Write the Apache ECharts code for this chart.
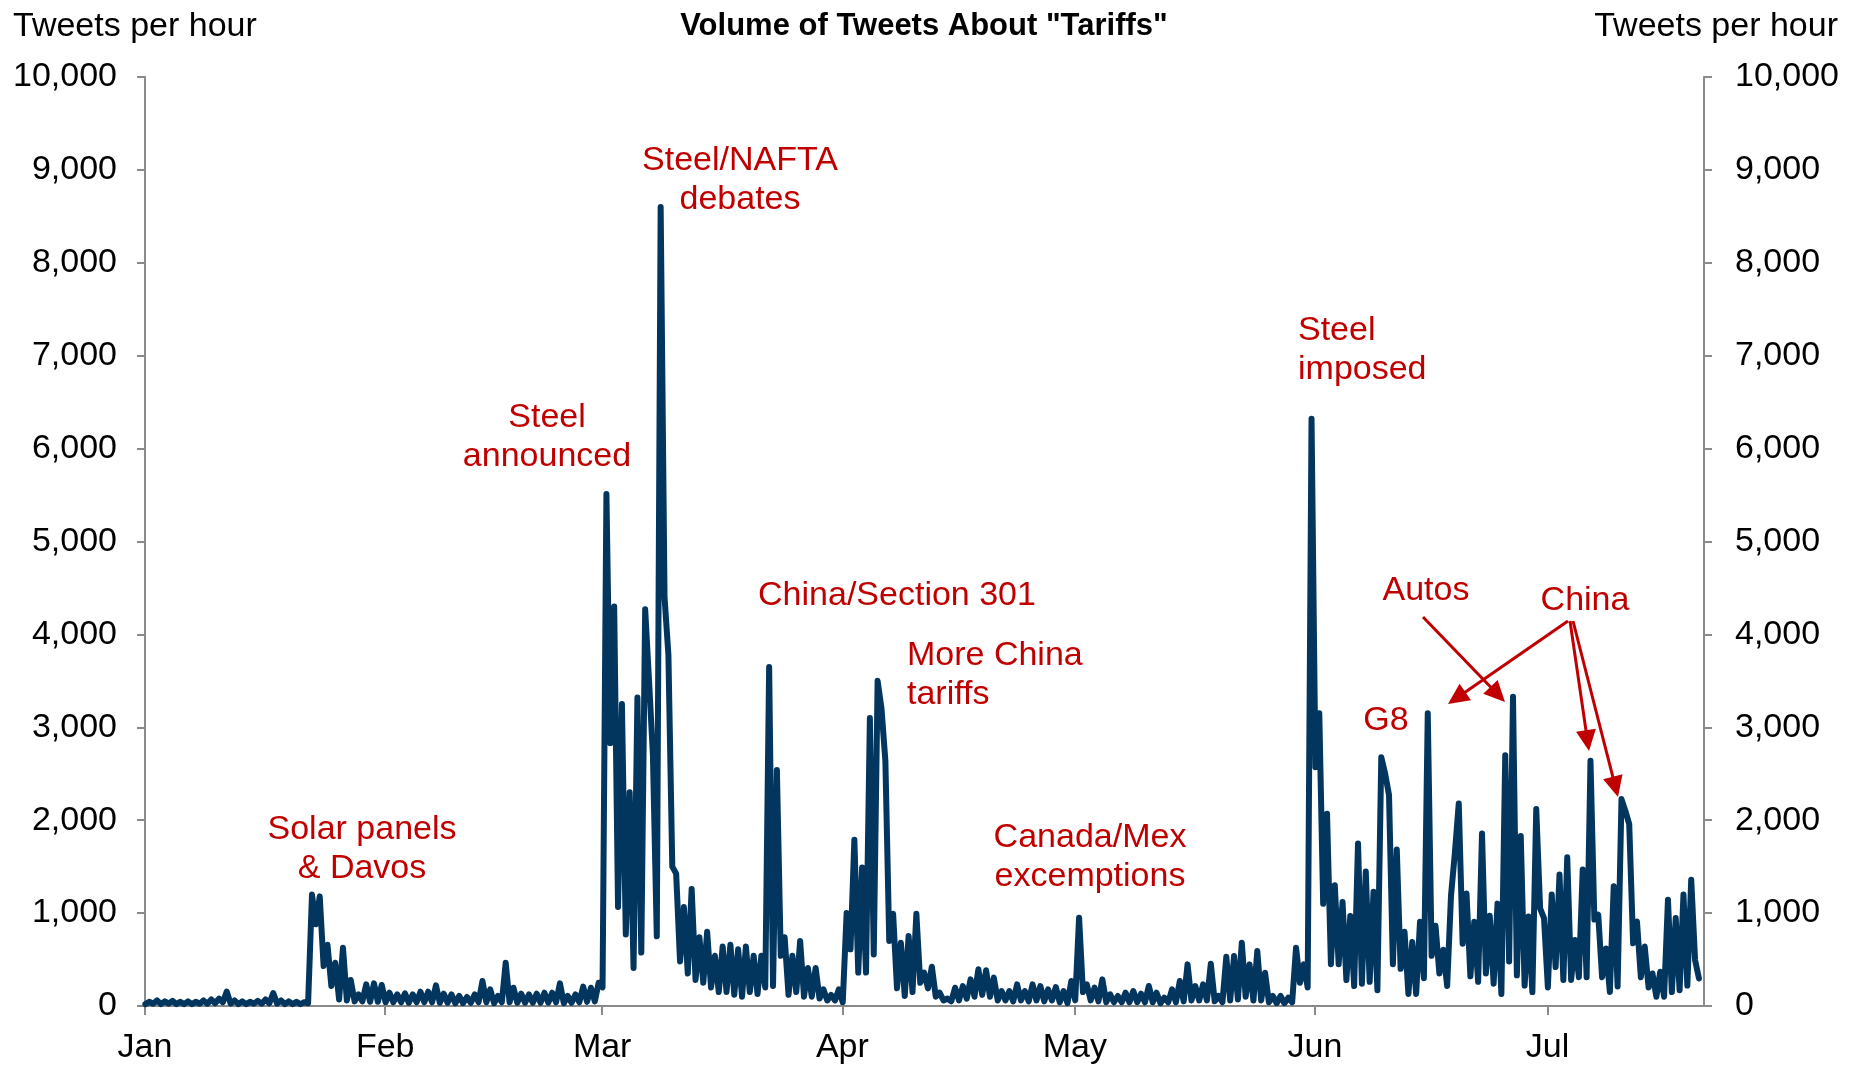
<!DOCTYPE html>
<html>
<head>
<meta charset="utf-8">
<title>Volume of Tweets About "Tariffs"</title>
<script src="https://cdn.jsdelivr.net/npm/echarts@6/dist/echarts.min.js"></script>
<style>
  html, body { margin: 0; padding: 0; background: #ffffff; }
  #chart { width: 1862px; height: 1065px; }
</style>
</head>
<body>
<div id="chart"></div>
<script>
// Tweets per hour about "tariffs", 2018. Each month lists, day by day,
// the overnight low followed by the daytime high.
const jan = [
  20,45, 25,60, 20,50, 25,55, 20,45, 20,50, 20,45, 25,60, 25,70, 30,80,
  40,155, 25,60, 20,50, 20,45, 25,55, 25,70, 30,140, 25,60, 20,50, 20,45,
  20,40, 30,1200, 880,1180, 430,660, 215,466, 70,627, 60,280, 50,125, 50,233, 45,244,
  45,226
];
const feb = [
  40,143, 40,125, 40,136, 35,125, 40,154, 40,154, 40,222, 35,133, 35,125, 30,108,
  30,97, 35,125, 40,269, 40,179, 30,108, 40,466, 40,197, 35,133, 35,125, 35,133,
  35,143, 35,143, 40,244, 30,108, 35,125, 40,208, 45,197, 50,251
];
const mar = [
  200,5510, 2830,4300, 1065,3250, 770,2300, 410,3320, 575,4270, 3500,2700, 750,8600, 4400,3780, 1500,1425,
  480,1065, 350,1260, 280,740, 250,800, 200,540, 150,640, 150,660, 120,610, 100,640, 150,540,
  130,540, 200,3650, 215,2540, 540,740, 120,540, 150,700, 100,410, 100,410, 80,180, 60,120,
  60,180
];
const apr = [
  40,1000, 610,1790, 360,1490, 360,3100, 555,3500, 3200,2640, 700,994, 190,682, 107,753, 150,994,
  250,359, 190,423, 100,143, 60,80, 50,197, 60,215, 80,287, 100,395, 120,384, 100,305,
  60,161, 60,161, 50,233, 60,161, 50,233, 60,215, 50,179, 60,204, 40,161, 30,269
];
const may = [
  60,950, 150,233, 60,197, 50,287, 40,126, 40,108, 40,143, 40,161, 40,133, 40,215,
  40,143, 30,90, 40,179, 40,269, 50,448, 60,215, 60,233, 60,455, 50,108, 40,531,
  60,538, 70,682, 100,448, 60,592, 60,358, 40,108, 30,108, 30,90, 40,628, 250,448,
  200,6320
];
const jun = [
  2570,3150, 1100,2070, 450,1300, 450,1120, 280,970, 215,1750, 240,1447, 260,1231, 170,2678, 2500,2270,
  450,1685, 400,800, 130,690, 130,907, 300,3150, 540,864, 350,605, 215,1188, 1650,2181, 670,1210,
  320,907, 260,1857, 350,972, 240,1102, 130,2700, 480,3330, 330,1830, 220,964, 150,2120, 1050,946
];
const jul = [
  200,1200, 420,1415, 280,1600, 280,711, 310,1470, 310,2640, 930,982, 310,620, 150,1290, 210,2227,
  2100,1957, 675,910, 310,640, 200,350, 100,368, 100,1144, 150,946, 170,1200, 220,1360, 495,296
];

const monthLabels = ['Jan', 'Feb', 'Mar', 'Apr', 'May', 'Jun', 'Jul'];
const monthStartDays = [0, 31, 59, 90, 120, 151, 181];   // days since 1 Jan
const axisEndDay = 201.2;
const yMax = 10000;
const yStep = 1000;

const annotations = [
  { text: 'Solar panels\n& Davos', x: 362, y: 849, align: 'center' },
  { text: 'Steel\nannounced', x: 547, y: 437, align: 'center' },
  { text: 'Steel/NAFTA\ndebates', x: 740, y: 180, align: 'center' },
  { text: 'China/Section 301', x: 897, y: 596, align: 'center' },
  { text: 'More China\ntariffs', x: 907, y: 675, align: 'left' },
  { text: 'Canada/Mex\nexcemptions', x: 1090, y: 857, align: 'center' },
  { text: 'Steel\nimposed', x: 1298, y: 350, align: 'left' },
  { text: 'Autos', x: 1426, y: 591, align: 'center' },
  { text: 'G8', x: 1386, y: 721, align: 'center' },
  { text: 'China', x: 1585, y: 601, align: 'center' }
];
// arrows: [fromX, fromY, tipX, tipY]
const arrows = [
  [1423, 617, 1505, 702],
  [1568, 621, 1448, 704],
  [1570, 621, 1589, 751],
  [1573, 621, 1618, 797]
];

const RED = '#C00000';
const NAVY = '#03365f';
const AXIS_GREY = '#8a8a8a';
const FONT = '"Liberation Sans", Arial, Helvetica, sans-serif';

// One point for the overnight low and one for the daytime high of every day.
const months = [jan, feb, mar, apr, may, jun, jul];
const points = [];
months.forEach((vals, m) => {
  for (let i = 0; i < vals.length; i += 2) {
    const day = monthStartDays[m] + i / 2;
    points.push([day + 0.05, vals[i]]);
    points.push([day + 0.55, vals[i + 1]]);
  }
});

function textEl(t) {
  return {
    type: 'text',
    z: 100,
    style: {
      text: t.text, x: t.x, y: t.y,
      fill: RED,
      font: '34px ' + FONT,
      lineHeight: 39,
      align: t.align, textAlign: t.align,
      verticalAlign: 'middle', textVerticalAlign: 'middle'
    }
  };
}

function arrowEls(a) {
  const [x1, y1, x2, y2] = a;
  const len = 21, half = 10;
  const dx = x2 - x1, dy = y2 - y1, d = Math.hypot(dx, dy);
  const ux = dx / d, uy = dy / d;
  const bx = x2 - ux * len, by = y2 - uy * len;
  return [
    { type: 'line', z: 100, shape: { x1: x1, y1: y1, x2: bx + ux * 2, y2: by + uy * 2 },
      style: { stroke: RED, lineWidth: 3 } },
    { type: 'polygon', z: 100,
      shape: { points: [[x2, y2], [bx - uy * half, by + ux * half], [bx + uy * half, by - ux * half]] },
      style: { fill: RED } }
  ];
}

const graphics = [
  { type: 'text', style: { text: 'Tweets per hour', x: 13, y: 27, fill: '#000', font: '34px ' + FONT,
      align: 'left', textAlign: 'left', verticalAlign: 'middle', textVerticalAlign: 'middle' } },
  { type: 'text', style: { text: 'Tweets per hour', x: 1838, y: 27, fill: '#000', font: '34px ' + FONT,
      align: 'right', textAlign: 'right', verticalAlign: 'middle', textVerticalAlign: 'middle' } },
  { type: 'text', style: { text: 'Volume of Tweets About "Tariffs"', x: 924, y: 26, fill: '#000',
      font: 'bold 31px ' + FONT,
      align: 'center', textAlign: 'center', verticalAlign: 'middle', textVerticalAlign: 'middle' } }
];
annotations.forEach(t => graphics.push(textEl(t)));
arrows.forEach(a => arrowEls(a).forEach(e => graphics.push(e)));

const yAxisBase = {
  type: 'value',
  min: 0,
  max: yMax,
  interval: yStep,
  splitLine: { show: false },
  axisLine: { show: true, lineStyle: { color: AXIS_GREY, width: 2 } },
  axisTick: { show: true, inside: false, length: 8, lineStyle: { color: AXIS_GREY, width: 2 } },
  axisLabel: {
    color: '#000',
    fontSize: 34,
    fontFamily: FONT,
    formatter: v => v.toLocaleString('en-US')
  }
};

const chart = echarts.init(document.getElementById('chart'), null, { renderer: 'canvas' });
chart.setOption({
  animation: false,
  backgroundColor: '#ffffff',
  grid: { left: 145, right: 158, top: 77, bottom: 58, containLabel: false },
  xAxis: {
    type: 'value',
    min: 0,
    max: axisEndDay,
    splitLine: { show: false },
    axisLine: { show: true, onZero: false, lineStyle: { color: AXIS_GREY, width: 2 } },
    axisTick: { show: true, customValues: monthStartDays, length: 9, lineStyle: { color: AXIS_GREY, width: 2 } },
    axisLabel: {
      customValues: monthStartDays,
      color: '#000',
      fontSize: 34,
      fontFamily: FONT,
      margin: 25,
      formatter: v => monthLabels[monthStartDays.indexOf(v)]
    }
  },
  yAxis: [
    Object.assign({}, yAxisBase, { position: 'left',
      axisLabel: Object.assign({}, yAxisBase.axisLabel, { margin: 28 }) }),
    Object.assign({}, yAxisBase, { position: 'right',
      axisLabel: Object.assign({}, yAxisBase.axisLabel, { margin: 31 }) })
  ],
  series: [{
    name: 'Tweets per hour',
    type: 'line',
    data: points,
    showSymbol: false,
    symbol: 'none',
    smooth: false,
    lineStyle: { color: NAVY, width: 6, cap: 'round', join: 'round' },
    z: 3
  }],
  graphic: graphics
});
</script>
</body>
</html>
